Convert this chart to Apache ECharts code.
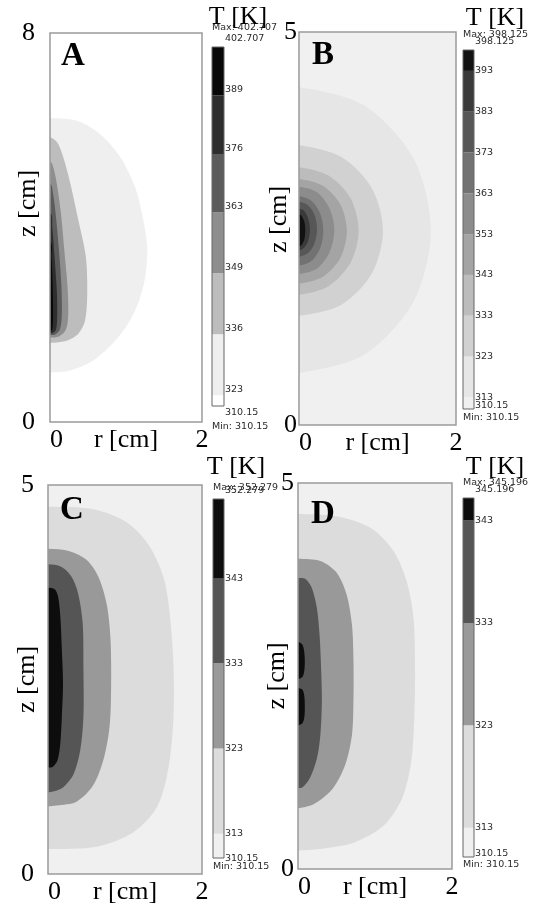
<!DOCTYPE html>
<html>
<head>
<meta charset="utf-8">
<script src="https://cdn.jsdelivr.net/npm/echarts@6/dist/echarts.min.js"></script>
<style>
  html, body { margin: 0; padding: 0; background: #fff; }
  #chart { width: 535px; height: 906px; }
</style>
</head>
<body>
<div id="chart"></div>
<script>
// contour levels in K, lowest first (last one is the max)
var levelsA = [310.15, 323, 336, 349, 363, 376, 389, 402.707];
var levelsB = [310.15, 313, 323, 333, 343, 353, 363, 373, 383, 393, 398.125];
var levelsC = [310.15, 313, 323, 333, 343, 352.279];
var levelsD = [310.15, 313, 323, 333, 343, 345.196];

// colorbar tick labels, bottom to top
var ticksA = ['310.15', '323', '336', '349', '363', '376', '389', '402.707'];
var ticksB = ['310.15', '313', '323', '333', '343', '353', '363', '373', '383', '393', '398.125'];
var ticksC = ['310.15', '313', '323', '333', '343', '352.279'];
var ticksD = ['310.15', '313', '323', '333', '343', '345.196'];

// isotherm outlines: [level, [[r, z], ...]] in cm, from the top of the axis round to the bottom
var contoursA = [
  [323, [[0, 6.25], [0.36, 6.19], [0.66, 5.92], [0.92, 5.46], [1.12, 4.83], [1.22, 4.21], [1.28, 3.58], [1.25, 2.96], [1.16, 2.44], [1.01, 1.98], [0.79, 1.56], [0.53, 1.23], [0.26, 1.06], [0, 1.02]]],
  [336, [[0, 5.85], [0.11, 5.71], [0.24, 5.08], [0.37, 4.17], [0.47, 3.42], [0.49, 2.65], [0.46, 2.08], [0.37, 1.81], [0.22, 1.67], [0.05, 1.63], [0, 1.63]]],
  [349, [[0, 5.35], [0.05, 5.2], [0.1, 4.8], [0.15, 4.2], [0.19, 3.5], [0.23, 2.8], [0.24, 2.2], [0.21, 1.9], [0.12, 1.76], [0, 1.74]]],
  [363, [[0, 4.9], [0.04, 4.7], [0.08, 4.2], [0.12, 3.5], [0.15, 2.8], [0.155, 2.2], [0.13, 1.9], [0.07, 1.8], [0, 1.79]]],
  [376, [[0, 4.3], [0.03, 4.0], [0.06, 3.4], [0.09, 2.7], [0.095, 2.2], [0.08, 1.9], [0.04, 1.83], [0, 1.82]]],
  [389, [[0, 3.7], [0.02, 3.4], [0.035, 2.8], [0.04, 2.2], [0.03, 1.9], [0, 1.85]]]
];
var contoursB = [
  [313, [[0, 4.30], [0.84, 4.06], [1.46, 3.39], [1.68, 2.48], [1.46, 1.57], [0.84, 0.90], [0, 0.66]]],
  [323, [[0, 3.56], [0.54, 3.41], [0.93, 3.01], [1.07, 2.47], [0.93, 1.93], [0.54, 1.53], [0, 1.39]]],
  [333, [[0, 3.28], [0.38, 3.17], [0.66, 2.88], [0.76, 2.47], [0.66, 2.07], [0.38, 1.77], [0, 1.66]]],
  [343, [[0, 3.13], [0.31, 3.04], [0.53, 2.80], [0.61, 2.47], [0.53, 2.13], [0.31, 1.89], [0, 1.80]]],
  [353, [[0, 3.03], [0.23, 2.96], [0.39, 2.75], [0.45, 2.48], [0.39, 2.20], [0.23, 1.99], [0, 1.92]]],
  [363, [[0, 2.91], [0.16, 2.85], [0.27, 2.69], [0.31, 2.47], [0.27, 2.25], [0.16, 2.09], [0, 2.03]]],
  [373, [[0, 2.84], [0.12, 2.79], [0.20, 2.67], [0.23, 2.49], [0.20, 2.32], [0.12, 2.19], [0, 2.14]]],
  [383, [[0, 2.75], [0.07, 2.72], [0.12, 2.62], [0.14, 2.49], [0.12, 2.35], [0.07, 2.26], [0, 2.22]]],
  [393, [[0, 2.68], [0.04, 2.65], [0.07, 2.58], [0.08, 2.48], [0.07, 2.37], [0.04, 2.30], [0, 2.27]]]
];
var contoursC = [
  [313, [[0, 4.72], [0.58, 4.69], [1.02, 4.52], [1.32, 4.21], [1.52, 3.74], [1.62, 2.88], [1.63, 2.03], [1.56, 1.34], [1.41, 0.85], [1.10, 0.53], [0.63, 0.35], [0, 0.32]]],
  [323, [[0, 4.18], [0.28, 4.15], [0.50, 4.04], [0.65, 3.83], [0.76, 3.48], [0.81, 3.05], [0.82, 2.45], [0.80, 1.90], [0.72, 1.47], [0.58, 1.13], [0.37, 0.93], [0.11, 0.88], [0, 0.87]]],
  [333, [[0, 3.98], [0.17, 3.95], [0.30, 3.83], [0.39, 3.61], [0.45, 3.23], [0.46, 2.67], [0.46, 2.03], [0.42, 1.60], [0.33, 1.28], [0.19, 1.11], [0.065, 1.06], [0, 1.05]]],
  [343, [[0, 3.68], [0.087, 3.66], [0.13, 3.57], [0.16, 3.31], [0.18, 2.88], [0.195, 2.45], [0.18, 2.03], [0.16, 1.68], [0.126, 1.47], [0.065, 1.38], [0, 1.37]]]
];
var contoursD = [
  [313, [[0, 4.60], [0.50, 4.57], [0.94, 4.42], [1.24, 4.12], [1.41, 3.73], [1.50, 3.25], [1.52, 2.60], [1.51, 1.95], [1.47, 1.39], [1.35, 0.91], [1.11, 0.56], [0.72, 0.34], [0.29, 0.26], [0, 0.24]]],
  [323, [[0, 4.02], [0.29, 3.99], [0.50, 3.84], [0.63, 3.56], [0.70, 3.17], [0.72, 2.73], [0.72, 2.17], [0.70, 1.73], [0.61, 1.34], [0.45, 1.04], [0.22, 0.85], [0, 0.79]]],
  [333, [[0, 3.77], [0.094, 3.76], [0.18, 3.64], [0.245, 3.38], [0.28, 3.03], [0.30, 2.60], [0.31, 2.17], [0.29, 1.73], [0.245, 1.43], [0.16, 1.19], [0.06, 1.06], [0, 1.05]]],
  [343, [[0, 2.94], [0.06, 2.90], [0.085, 2.77], [0.085, 2.60], [0.06, 2.49], [0, 2.46]]],
  [343, [[0, 2.34], [0.06, 2.32], [0.085, 2.21], [0.085, 1.99], [0.06, 1.89], [0, 1.86]]]
];

// band colours, lowest band first
var graysA = ['#ffffff', '#efefef', '#bdbdbd', '#8e8e8e', '#5c5c5c', '#2e2e2e', '#080808'];
var graysB = ['#f0f0f0', '#e6e6e6', '#d1d1d1', '#bcbcbc', '#a4a4a4', '#8c8c8c', '#727272', '#575757', '#3a3a3a', '#121212'];
var graysC = ['#f0f0f0', '#dcdcdc', '#999999', '#555555', '#0d0d0d'];
var graysD = ['#f0f0f0', '#dcdcdc', '#999999', '#555555', '#0d0d0d'];

// panel A's colorbar is not linear: where each level sits on the bar (0 bottom, 1 top)
var stopsA = [0, 0.03, 0.20, 0.37, 0.54, 0.70, 0.865, 1];

function linStops(levels) {
  var lo = levels[0], hi = levels[levels.length - 1];
  return levels.map(function (v) { return (v - lo) / (hi - lo); });
}

var SERIF = '"Liberation Serif", "Times New Roman", serif';
var SANS = '"DejaVu Sans", Verdana, sans-serif';

var panels = [
  { name: 'A', zMax: 8, levels: levelsA, ticks: ticksA, contours: contoursA, grays: graysA, stops: stopsA,
    plot: { left: 50, top: 33, width: 152, height: 389 }, bar: { left: 212, top: 47, width: 12, height: 359 },
    yMargin: 15, zGap: 9, zPad: [0, 0, 0, 48], lab: { tick: -6, top: -8, bot: 7, max: -19, min: 21 },
    letter: [73, 56], unit: [238, 17] },
  { name: 'B', zMax: 5, levels: levelsB, ticks: ticksB, contours: contoursB, grays: graysB, stops: linStops(levelsB),
    plot: { left: 299, top: 32, width: 157, height: 393 }, bar: { left: 463, top: 50, width: 11, height: 359 },
    yMargin: 2, zGap: 7, zPad: [0, 0, 0, 18], lab: { tick: 0, top: -8, bot: -3, max: -15, min: 9 },
    letter: [323, 55], unit: [495, 18] },
  { name: 'C', zMax: 5, levels: levelsC, ticks: ticksC, contours: contoursC, grays: graysC, stops: linStops(levelsC),
    plot: { left: 48, top: 485, width: 154, height: 389 }, bar: { left: 213, top: 499, width: 11, height: 359 },
    yMargin: 14, zGap: 8, zPad: [0, 0, 0, 0], lab: { tick: 0, top: -8, bot: 1, max: -11, min: 9 },
    letter: [72, 510], unit: [236, 467] },
  { name: 'D', zMax: 5, levels: levelsD, ticks: ticksD, contours: contoursD, grays: graysD, stops: linStops(levelsD),
    plot: { left: 298, top: 483, width: 154, height: 386 }, bar: { left: 463, top: 498, width: 11, height: 359 },
    yMargin: 4, zGap: 8, zPad: [0, 0, 0, 0], lab: { tick: 0, top: -8, bot: -3, max: -15, min: 8 },
    letter: [323, 514], unit: [495, 467] }
];

function contourSeries(k, p) {
  return {
    type: 'custom',
    xAxisIndex: k,
    yAxisIndex: k,
    clip: true,
    silent: true,
    data: [[0, 0]].concat(p.contours.map(function () { return [0, 0]; })),
    renderItem: function (params, api) {
      var cs = params.coordSys;
      var i = params.dataIndex - 1;
      if (i < 0) {
        return { type: 'rect', shape: { x: cs.x, y: cs.y, width: cs.width, height: cs.height }, style: { fill: p.grays[0] } };
      }
      var c = p.contours[i];
      var band = p.levels.indexOf(c[0]);
      var pts = c[1].map(function (q) { return api.coord(q); });
      // close the outline behind the symmetry axis (clipped away)
      var y0 = pts[0][1], y1 = pts[pts.length - 1][1];
      pts.unshift([cs.x - 40, y0]);
      pts.push([cs.x - 40, y1]);
      return { type: 'polygon', shape: { points: pts, smooth: 0.3 }, style: { fill: p.grays[band] } };
    }
  };
}

function txt(s, x, y, align) {
  return { type: 'text', x: x, y: y, style: { text: s, fill: '#2a2a2a', font: '9.5px ' + SANS, align: align || 'left', verticalAlign: 'middle' } };
}

function barSeries(k, p) {
  return {
    type: 'custom',
    xAxisIndex: k,
    yAxisIndex: k,
    silent: true,
    clip: false,
    data: [[0, 0]],
    renderItem: function (params, api) {
      var cs = params.coordSys;
      var n = p.levels.length - 1;
      var kids = [];
      for (var i = 0; i < n; i++) {
        var a = api.coord([0, p.stops[i]]), b = api.coord([1, p.stops[i + 1]]);
        kids.push({ type: 'rect', shape: { x: a[0], y: b[1], width: b[0] - a[0], height: a[1] - b[1] }, style: { fill: p.grays[i] } });
      }
      for (var j = 0; j <= n; j++) {
        var q = api.coord([1, p.stops[j]]);
        var dy = j === 0 ? p.lab.bot : (j === n ? p.lab.top : p.lab.tick);
        kids.push(txt(p.ticks[j], q[0] + 1, q[1] + dy));
      }
      kids.push(txt('Max: ' + p.ticks[n], cs.x, cs.y + p.lab.max));
      kids.push(txt('Min: ' + p.ticks[0], cs.x, cs.y + cs.height + p.lab.min));
      return { type: 'group', children: kids };
    }
  };
}

var grids = [], xAxes = [], yAxes = [], series = [], graphics = [];

panels.forEach(function (p, k) {
  grids.push(Object.assign({ show: true, z: 3, outerBoundsMode: 'none', containLabel: false,
    backgroundColor: 'transparent', borderColor: '#9a9a9a', borderWidth: 1.5 }, p.plot));
  xAxes.push({
    gridIndex: k, type: 'value', min: 0, max: 2, interval: 2,
    name: 'r [cm]', nameLocation: 'middle', nameGap: 5, nameMoveOverlap: false,
    nameTextStyle: { fontFamily: SERIF, fontSize: 26, color: '#000' },
    axisLine: { show: false }, axisTick: { show: false }, splitLine: { show: false },
    axisLabel: { fontFamily: SERIF, fontSize: 26, color: '#000', margin: 5, alignMinLabel: 'left' }
  });
  yAxes.push({
    gridIndex: k, type: 'value', min: 0, max: p.zMax, interval: p.zMax,
    name: 'z [cm]', nameLocation: 'middle', nameGap: p.zGap, nameMoveOverlap: false,
    nameTextStyle: { fontFamily: SERIF, fontSize: 26, color: '#000', padding: p.zPad },
    axisLine: { show: false }, axisTick: { show: false }, splitLine: { show: false },
    axisLabel: { fontFamily: SERIF, fontSize: 26, color: '#000', margin: p.yMargin }
  });
  series.push(contourSeries(k, p));
  graphics.push({ type: 'text', z: 10, x: p.letter[0], y: p.letter[1],
    style: { text: p.name, font: 'bold 33px ' + SERIF, fill: '#000', align: 'center', verticalAlign: 'middle' } });
  graphics.push({ type: 'text', z: 10, x: p.unit[0], y: p.unit[1],
    style: { text: 'T [K]', font: '26px ' + SERIF, fill: '#000', align: 'center', verticalAlign: 'middle' } });
});

panels.forEach(function (p, k) {
  var g = 4 + k;
  grids.push(Object.assign({ show: true, z: 3, outerBoundsMode: 'none', containLabel: false,
    backgroundColor: 'transparent', borderColor: '#666', borderWidth: 1 }, p.bar));
  xAxes.push({ gridIndex: g, type: 'value', min: 0, max: 1, show: false });
  yAxes.push({ gridIndex: g, type: 'value', min: 0, max: 1, show: false });
  series.push(barSeries(g, p));
});

var myChart = echarts.init(document.getElementById('chart'));
myChart.setOption({
  animation: false,
  backgroundColor: '#fff',
  grid: grids,
  xAxis: xAxes,
  yAxis: yAxes,
  series: series,
  graphic: graphics
});
</script>
</body>
</html>
